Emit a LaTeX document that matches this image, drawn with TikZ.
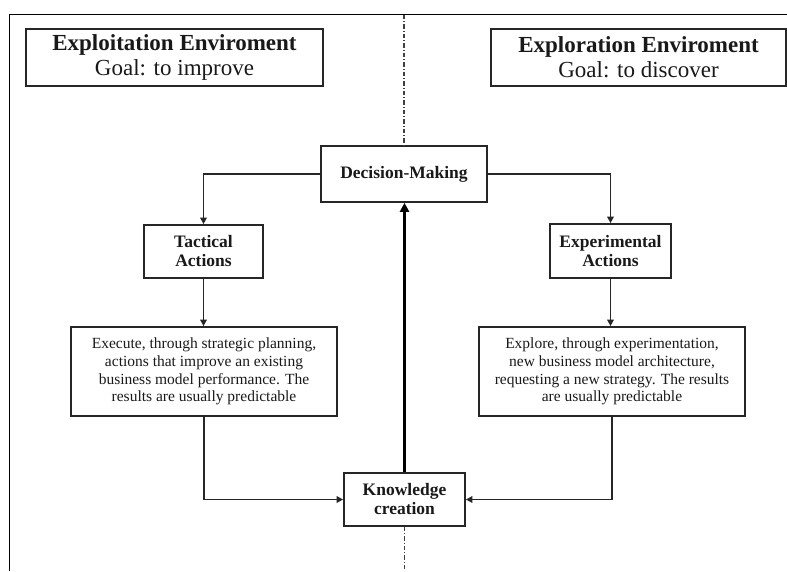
\documentclass[tikz,border=0pt]{standalone}
\usepackage{fontspec}
\setmainfont{Liberation Serif}
\usetikzlibrary{arrows.meta}
\begin{document}
\begin{tikzpicture}[x=1pt,y=-1pt,
  box/.style={draw=black!85, line width=1.7pt, rectangle, inner sep=0pt, align=center, text=black!90},
  titlebox/.style={box, font=\fontsize{23}{25}\selectfont},
  stepbox/.style={box, font=\fontsize{17.5}{19}\selectfont\bfseries},
  descbox/.style={box, font=\fontsize{15.5}{17.8}\selectfont},
  conn/.style={draw=black!85, line width=1.6pt, -{Triangle[length=6.5pt,width=6.5pt]}},
  thickconn/.style={draw=black, line width=3.2pt, -{Triangle[length=9pt,width=9pt]}},
  divider/.style={draw=black!75, line width=1.6pt, dash pattern=on 4.5pt off 2pt on 1pt off 2pt},
  frame/.style={draw=black, line width=1.6pt}]
\useasboundingbox (0,0) rectangle (787,571);

% outer frame (top and left edges)
\draw[frame] (787,14.5) -- (9.5,14.5) -- (9.5,571);

% environment headings
\node[titlebox, minimum width=297pt, minimum height=57pt] (ltitle) at (174.5,57.5)
  {\textbf{Exploitation Enviroment}\\Goal: to improve};
\node[titlebox, minimum width=295pt, minimum height=57pt] (rtitle) at (638.5,57.5)
  {\textbf{Exploration Enviroment}\\Goal: to discover};

% process nodes
\node[stepbox, minimum width=166pt, minimum height=56pt] (dm) at (404,174) {Decision-Making};
\node[stepbox, minimum width=119pt, minimum height=53pt] (tac) at (203.5,251.5) {Tactical\\Actions};
\node[stepbox, minimum width=121pt, minimum height=54pt] (exp) at (610.5,251) {Experimental\\Actions};
\node[descbox, minimum width=266pt, minimum height=89pt] (ldesc) at (204,371.5)
  {Execute, through strategic planning,\\actions that improve an existing\\business model performance. The\\results are usually predictable};
\node[descbox, minimum width=266pt, minimum height=89pt] (rdesc) at (612,371.5)
  {Explore, through experimentation,\\new business model architecture,\\requesting a new strategy. The results\\are usually predictable};
\node[stepbox, minimum width=121pt, minimum height=53pt] (kn) at (404.5,499.5) {Knowledge\\creation};

% dividing line between the two environments
\coordinate (divtop) at (404,14.5);
\coordinate (divbot) at (404.5,571);
\draw[divider] (divtop) -- (dm.north);
\draw[divider] (kn.south) -- (divbot);

% connectors
\draw[conn] (dm.west) -| (tac.north);
\draw[conn] (dm.east) -| (exp.north);
\draw[conn] (tac.south) -- (tac.south |- ldesc.north);
\draw[conn] (exp.south) -- (exp.south |- rdesc.north);
\draw[conn] (ldesc.south) |- (kn.west);
\draw[conn] (rdesc.south) |- (kn.east);
\draw[thickconn] (kn.north) -- (kn.north |- dm.south);
\end{tikzpicture}
\end{document}
